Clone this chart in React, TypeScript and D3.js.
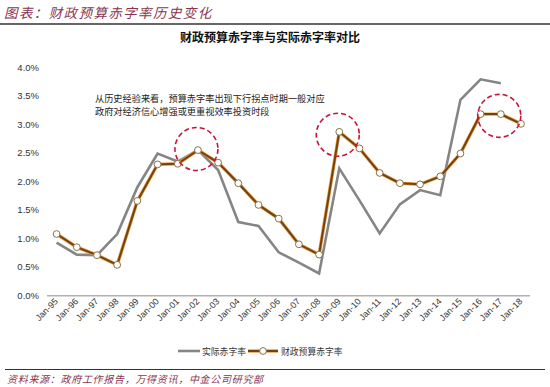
import React from "react";
import * as d3 from "d3";

const categories = ["Jan-95","Jan-96","Jan-97","Jan-98","Jan-99","Jan-00","Jan-01","Jan-02","Jan-03","Jan-04","Jan-05","Jan-06","Jan-07","Jan-08","Jan-09","Jan-10","Jan-11","Jan-12","Jan-13","Jan-14","Jan-15","Jan-16","Jan-17","Jan-18"];
const actualDeficit: (number | null)[] = [0.93,0.72,0.71,1.08,1.90,2.49,2.35,2.55,2.20,1.29,1.22,0.76,0.58,0.39,2.23,1.67,1.09,1.60,1.85,1.76,3.43,3.79,3.72,null];
const budgetDeficit = [1.08,0.85,0.71,0.54,1.66,2.30,2.31,2.55,2.33,1.97,1.59,1.35,0.90,0.72,2.87,2.58,2.15,1.97,1.95,2.09,2.49,3.18,3.18,3.01];
const yTicks = [0,0.5,1,1.5,2,2.5,3,3.5,4];
const highlights = [
  { cat: "Jan-02", value: 2.57 },
  { cat: "Jan-09", value: 2.82 },
  { cat: "Jan-17", value: 3.15 },
];
const headerText = "图表：财政预算赤字率历史变化";
const chartTitle = "财政预算赤字率与实际赤字率对比";
const noteLines = ["从历史经验来看，预算赤字率出现下行拐点时期一般对应", "政府对经济信心增强或更重视效率投资时段"];
const seriesNames = ["实际赤字率", "财政预算赤字率"];
const sourceText = "资料来源：政府工作报告，万得资讯，中金公司研究部";

export default function App() {
  const W = 550, H = 387;
  const x = d3.scalePoint<string>().domain(categories).range([56.6, 521]);
  const y = d3.scaleLinear().domain([0, 4]).range([295.7, 67.3]);

  const actualLine = d3.line<number | null>()
    .defined((d) => d !== null)
    .x((_, i) => x(categories[i]) as number)
    .y((d) => y(d as number));
  const budgetLine = d3.line<number>()
    .x((_, i) => x(categories[i]) as number)
    .y((d) => y(d));

  const cjk = "'Noto Sans CJK SC', sans-serif";
  const latin = "'Liberation Sans', Arial, sans-serif";
  const redBrown = "#8a3550";

  return (
    <svg width={W} height={H} viewBox={`0 0 ${W} ${H}`} style={{ position: "absolute", left: 0, top: 0, background: "#fff" }}>
      <rect width={W} height={H} fill="#fff" />
      {/* header */}
      <text x={4} y={18} fontFamily={cjk} fontSize={13.5} fontStyle="italic" fill={redBrown} letterSpacing={1.4}>{headerText}</text>
      <line x1={0} x2={550} y1={24} y2={24} stroke="#666" strokeWidth={2} />
      {/* title */}
      <text x={270} y={42} textAnchor="middle" fontFamily={cjk} fontSize={12} fontWeight="bold" fill="#111">{chartTitle}</text>

      {/* y axis labels */}
      {yTicks.map((t) => (
        <text key={t} x={39} y={y(t) + 3.3} textAnchor="end" fontFamily={latin} fontSize={9.5} fill="#333">{t.toFixed(1) + "%"}</text>
      ))}

      {/* x axis */}
      <line x1={47} x2={530} y1={y(0)} y2={y(0)} stroke="#b0b0b0" strokeWidth={1.5} />
      {categories.map((c) => (
        <text key={c} transform={`translate(${(x(c) as number) + 2},${302}) rotate(-45)`} textAnchor="end" fontFamily={latin} fontSize={9} fill="#333">{c}</text>
      ))}

      {/* note */}
      {noteLines.map((l, i) => (
        <text key={i} x={95} y={102 + i * 13} fontFamily={cjk} fontSize={9.2} fill="#222">{l}</text>
      ))}

      {/* series */}
      <path d={actualLine(actualDeficit) || ""} fill="none" stroke="#858585" strokeWidth={2.6} strokeLinejoin="miter" />
      <path d={budgetLine(budgetDeficit) || ""} fill="none" stroke="#e39a45" strokeWidth={3.4} />
      <path d={budgetLine(budgetDeficit) || ""} fill="none" stroke="#74420f" strokeWidth={2} />
      {budgetDeficit.map((v, i) => (
        <circle key={i} cx={x(categories[i]) as number} cy={y(v)} r={3.4} fill="#fff" stroke="#8a7345" strokeWidth={1} />
      ))}

      {/* highlight circles */}
      {highlights.map((h) => (
        <circle key={h.cat} cx={(x(h.cat) as number) - 1.5} cy={y(h.value)} r={21.5} fill="none" stroke="#c8143a" strokeWidth={1.6} strokeDasharray="5,3" />
      ))}

      {/* legend */}
      <line x1={178} x2={200} y1={351} y2={351} stroke="#858585" strokeWidth={2.6} />
      <text x={202} y={354.5} fontFamily={cjk} fontSize={8.8} fill="#333">{seriesNames[0]}</text>
      <line x1={248} x2={278} y1={351} y2={351} stroke="#e39a45" strokeWidth={3.4} />
      <line x1={248} x2={278} y1={351} y2={351} stroke="#74420f" strokeWidth={2} />
      <circle cx={263} cy={351} r={3.4} fill="#fff" stroke="#8a7345" strokeWidth={1} />
      <text x={281} y={354.5} fontFamily={cjk} fontSize={8.8} fill="#333">{seriesNames[1]}</text>

      {/* footer */}
      <line x1={5} x2={545} y1={369.5} y2={369.5} stroke="#333" strokeWidth={1} />
      <text x={7} y={383} fontFamily={cjk} fontSize={10} fontStyle="italic" fill={redBrown} letterSpacing={0.7}>{sourceText}</text>
    </svg>
  );
}
